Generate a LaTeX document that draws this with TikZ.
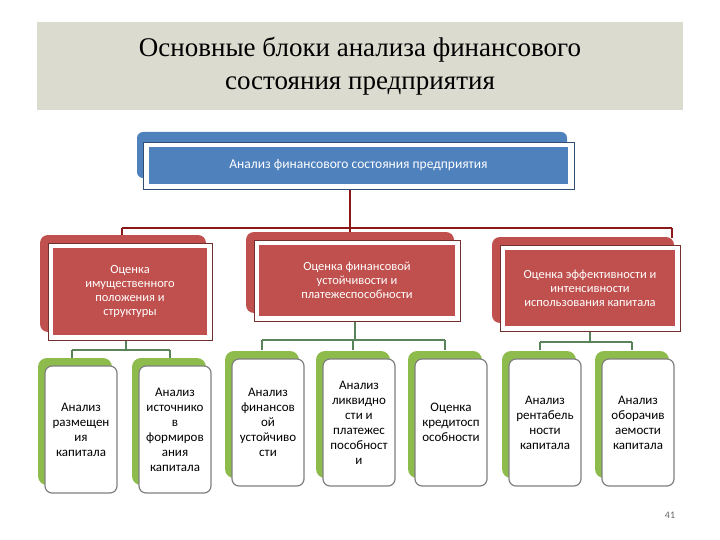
\documentclass[tikz,border=0pt]{standalone}
\usepackage{fontspec}
\setmainfont{Carlito}
\newfontfamily\titlefont{Liberation Serif}
\begin{document}
\begin{tikzpicture}[x=1pt,y=-1pt,
  redline/.style={draw=red!50!black!90,line width=1.6pt},
  greenline/.style={draw=black!45!green!30!gray,line width=1.4pt},
  txt/.style={align=center,font=\fontsize{13}{15}\selectfont,inner sep=0pt}]
\definecolor{bandc}{HTML}{DCDBCF}
\definecolor{bluec}{HTML}{4F81BD}
\definecolor{redc}{HTML}{C0504D}
\definecolor{greenc}{HTML}{8DBB4C}
\useasboundingbox (0,0) rectangle (720,540);
\fill[white] (0,0) rectangle (720,540);
% title
\fill[bandc] (37,22) rectangle (683,110);
\node[font=\titlefont\fontsize{27}{33}\selectfont,align=center] (title) at (360,66) {Основные блоки анализа финансового\\состояния предприятия};
% connectors
\coordinate (t0) at (350,190);
\coordinate (t1) at (350,228);
\coordinate (tl) at (122,228);
\coordinate (tr) at (672,228);
\draw[redline] (t0) -- (t1);
\draw[redline] (tl) -- (tr);
\draw[redline] (tl) -- ++(0,8);
\draw[redline] (350,228) -- (350,236);
\draw[redline] (tr) -- ++(0,10);
% green connectors
\draw[greenline] (126,340) -- (126,350) (72,350) -- (170,350) (72,350) -- (72,358) (170,350) -- (170,358);
\draw[greenline] (355,320) -- (355,340) (262,340) -- (445,340) (262,340)--(262,350) (353,340)--(353,350) (445,340)--(445,350);
\draw[greenline] (590,330) -- (590,342) (540,342) -- (632,342) (540,342)--(540,350) (632,342)--(632,350);
% top box
\fill[bluec,rounded corners=6pt] (137,132) rectangle (567,178);
\draw[bluec!60!black,line width=0.8pt,fill=white] (143,142) rectangle (574,189);
\node[fill=bluec,minimum width=419pt,minimum height=37pt,txt,text=white,font=\fontsize{13.5}{15}\selectfont] (top) at (358.5,165.5) {Анализ финансового состояния предприятия};
% red boxes
\newcommand{\redbox}[6]{%
  \fill[redc,rounded corners=8pt] (#2-8,#3-8) rectangle (#4-6,#5-8);
  \draw[redc!60!black,line width=0.8pt,fill=white] (#2,#3) rectangle (#4,#5);
  \node[fill=redc,txt,text=white,font=\fontsize{12.5}{14}\selectfont,minimum width=#4-#2-10,minimum height=#5-#3-10] (#1) at ({(#2+#4)/2},{(#3+#5)/2}) {#6};}
\redbox{r1}{48}{243}{212}{340}{Оценка\\имущественного\\положения и\\структуры}
\redbox{r2}{254}{240}{460}{321}{Оценка финансовой\\устойчивости и\\платежеспособности}
\redbox{r3}{500}{245}{680}{331}{Оценка эффективности и\\интенсивности\\использования капитала}
% green boxes
\newcommand{\grbox}[6]{%
  \fill[greenc,rounded corners=9pt] (#2-7,#3-8) rectangle (#4-5,#5-8);
  \draw[black!50,line width=1.2pt,fill=white,rounded corners=7pt] (#2,#3) rectangle (#4,#5);
  \node[txt,minimum width=#4-#2-4] (#1) at ({(#2+#4)/2},{(#3+#5)/2}) {#6};}
\grbox{g1}{45}{366}{117}{493}{Анализ\\размещен\\ия\\капитала}
\grbox{g2}{139}{366}{211}{493}{Анализ\\источнико\\в\\формиров\\ания\\капитала}
\grbox{g3}{232}{359}{304}{486}{Анализ\\финансов\\ой\\устойчиво\\сти}
\grbox{g4}{323}{359}{395}{486}{Анализ\\ликвидно\\сти и\\платежес\\пособност\\и}
\grbox{g5}{415}{359}{487}{486}{Оценка\\кредитосп\\особности}
\grbox{g6}{509}{359}{581}{486}{Анализ\\рентабель\\ности\\капитала}
\grbox{g7}{602}{359}{674}{486}{Анализ\\оборачив\\аемости\\капитала}
\node[font=\fontsize{10}{11}\selectfont,text=black!60] (pg) at (670,515) {41};
\end{tikzpicture}
\end{document}
